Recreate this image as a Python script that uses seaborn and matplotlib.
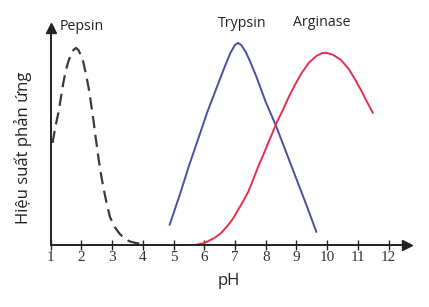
import matplotlib
matplotlib.use("Agg")
import matplotlib.pyplot as plt
import seaborn as sns

# ---- data ----
ph_ticks = [1, 2, 3, 4, 5, 6, 7, 8, 9, 10, 11, 12]

pepsin_ph = [1.06, 1.15, 1.25, 1.33, 1.41, 1.49, 1.57, 1.65, 1.74, 1.82, 1.90, 1.98, 2.06, 2.14,
             2.23, 2.31, 2.39, 2.47, 2.55, 2.63, 2.71, 2.82, 2.93, 3.08, 3.25, 3.42, 3.58, 3.77, 3.96]
pepsin_eff = [102, 118, 132, 147, 162, 174, 183, 190, 195, 197, 195, 190, 183, 172,
              158, 142, 125, 106, 88, 72, 58, 42, 28, 18, 11, 6, 3.5, 2, 1]

trypsin_ph = [4.87, 5.2, 5.5, 5.8, 6.1, 6.4, 6.65, 6.85, 7.0, 7.1, 7.2, 7.35, 7.5, 7.7,
              8.0, 8.35, 8.7, 9.0, 9.35, 9.65]
trypsin_eff = [20, 50, 79, 106, 133, 157, 177, 192, 200, 202, 200, 193, 183, 168,
               143, 118, 90, 66, 38, 13]

arginase_ph = [5.7, 6.0, 6.33, 6.55, 6.78, 6.95, 7.1, 7.27, 7.43, 7.6, 7.75, 7.92, 8.08, 8.22,
               8.35, 8.56, 8.75, 8.95, 9.15, 9.4, 9.65, 9.85, 10.0, 10.2, 10.45, 10.7, 10.9,
               11.1, 11.3, 11.49]
arginase_eff = [0, 2, 7, 12, 20, 27, 35, 44, 53, 66, 78, 90, 102, 112,
                122, 135, 148, 160, 171, 182, 189, 192, 192, 190, 185, 176, 166,
                155, 143, 132]

enzyme_names = ["Pepsin", "Trypsin", "Arginase"]

# ---- figure ----
sns.set_theme(style="white")
plt.rcParams['font.family'] = ['Open Sans', 'DejaVu Sans']

fig = plt.figure(figsize=(4.29, 3.07), dpi=100)
ax = fig.add_axes([0.1182, 0.202, 0.8305, 0.707])

sns.lineplot(x=pepsin_ph, y=pepsin_eff, ax=ax, color="#3a3a3a", linewidth=1.6)
ax.lines[-1].set_dashes([5.5, 3])
sns.lineplot(x=trypsin_ph, y=trypsin_eff, ax=ax, color="#4b4f9e", linewidth=1.4)
sns.lineplot(x=arginase_ph, y=arginase_eff, ax=ax, color="#e2304f", linewidth=1.4)
for ln in ax.lines:
    ln.set_solid_joinstyle("round")
    ln.set_dash_joinstyle("round")

ax.set_xlim(1, 12.6)
ax.set_ylim(0, 217)

for s in ["top", "right"]:
    ax.spines[s].set_visible(False)
for s in ["left", "bottom"]:
    ax.spines[s].set_color("#222222")
    ax.spines[s].set_linewidth(1.4)

# axis arrows
ax.plot(1, 0, marker=">", color="#222222", markersize=7, transform=ax.transAxes, clip_on=False)
ax.plot(0, 1, marker="^", color="#222222", markersize=7, transform=ax.transAxes, clip_on=False)

ax.set_xticks(ph_ticks)
ax.set_xticklabels([str(t) for t in ph_ticks], fontfamily="Liberation Serif", fontsize=11, color="#333333")
ax.tick_params(axis="x", direction="inout", length=7, width=1, color="#222222", pad=1, bottom=True)
ax.set_yticks([])

ax.set_xlabel("pH", fontsize=12, color="#222222", labelpad=6)
ax.set_ylabel("Hiệu suất phản ứng", fontsize=12, color="#222222")
ax.yaxis.set_label_coords(-0.052, 0.45)

# curve labels
label_pos_ph = [2.02, 7.25, 9.82]
label_pos_eff = [218, 221, 222]
for name, xp, yp in zip(enzyme_names, label_pos_ph, label_pos_eff):
    ax.text(xp, yp, name, ha="center", va="center", fontsize=10.2, color="#222222", clip_on=False)

fig.savefig("out.png", dpi=100)
